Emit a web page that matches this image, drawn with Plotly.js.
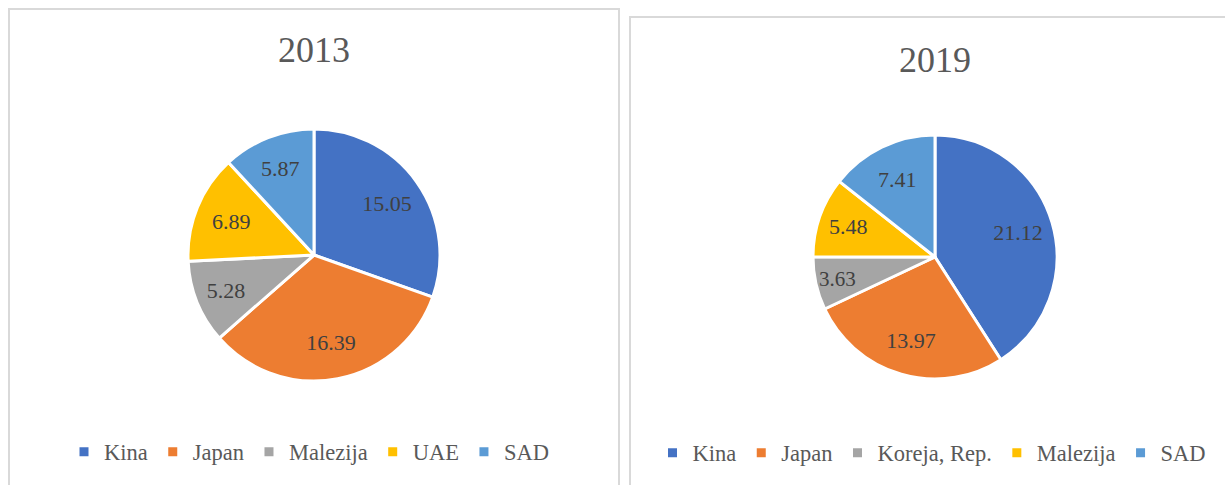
<!DOCTYPE html>
<html>
<head>
<meta charset="utf-8">
<script src="https://cdn.plot.ly/plotly-3.0.1.min.js"></script>
<style>html,body{margin:0;padding:0;background:#fff;}#chart{width:1225px;height:485px;}</style>
</head>
<body>
<div id="chart"></div>
<script>
const labels2013 = ["Kina", "Japan", "Malezija", "UAE", "SAD"];
const values2013 = [15.05, 16.39, 5.28, 6.89, 5.87];
const colors2013 = ["#4472C4", "#ED7D31", "#A5A5A5", "#FFC000", "#5B9BD5"];

const labels2019 = ["Kina", "Japan", "Koreja, Rep.", "Malezija", "SAD"];
const values2019 = [21.12, 13.97, 3.63, 5.48, 7.41];
const colors2019 = ["#4472C4", "#ED7D31", "#A5A5A5", "#FFC000", "#5B9BD5"];

const titles = ["2013", "2019"];

const W = 1225, H = 485;
const px = x => x / W;
const py = y => 1 - y / H;

const FONT = "Liberation Serif, Times New Roman, serif";

// 2019 legend is separate: make its labels distinct from the 2013 ones (invisible suffix)
const legendLabels2019 = labels2019.map(l => l + "\u200b");

const dom2013 = {x: [px(188), px(440)], y: [py(381), py(129)]};
const dom2019 = {x: [px(813), px(1057)], y: [py(379), py(135)]};

function basePie(labels, values, colors, domain, legend) {
  return {
    type: "pie", sort: false, direction: "clockwise", rotation: 0,
    labels: labels, values: values,
    marker: {colors: colors, line: {color: "#fff", width: 3}},
    textinfo: "none",
    hoverinfo: "label+value",
    domain: domain, legend: legend,
  };
}
function labelPie(labels, values, domain) {
  // transparent ring on top of the pie: puts value labels at ~0.7 of the radius
  return {
    type: "pie", sort: false, direction: "clockwise", rotation: 0,
    labels: labels, values: values, hole: 0.42,
    marker: {colors: labels.map(() => "rgba(0,0,0,0)"), line: {width: 0}},
    textinfo: "value", texttemplate: "%{value:.2f}",
    textposition: "inside", insidetextorientation: "horizontal",
    textfont: {family: FONT, size: 22, color: "#404040"},
    hoverinfo: "skip", showlegend: false,
    domain: domain,
  };
}

const traces = [
  basePie(labels2013, values2013, colors2013, dom2013, "legend"),
  basePie(legendLabels2019, values2019, colors2019, dom2019, "legend2"),
  labelPie(labels2013, values2013, dom2013),
  labelPie(legendLabels2019, values2019, dom2019),
];

const legendBase = {
  orientation: "h", xanchor: "center", yanchor: "middle",
  font: {family: FONT, size: 22.5, color: "#595959"},
  itemwidth: 30, bgcolor: "rgba(0,0,0,0)", traceorder: "normal",
};

const layout = {
  width: W, height: H,
  margin: {l: 0, r: 0, t: 0, b: 0},
  paper_bgcolor: "#fff",
  showlegend: true,
  legend: Object.assign({}, legendBase, {x: px(309), y: py(452)}),
  legend2: Object.assign({}, legendBase, {x: px(932), y: py(453)}),
  shapes: [
    {type: "rect", xref: "paper", yref: "paper", x0: px(9), x1: px(619), y0: py(495), y1: py(9),
     line: {color: "#D9D9D9", width: 2}, fillcolor: "rgba(0,0,0,0)"},
    {type: "rect", xref: "paper", yref: "paper", x0: px(630), x1: px(1240), y0: py(495), y1: py(17),
     line: {color: "#D9D9D9", width: 2}, fillcolor: "rgba(0,0,0,0)"},
  ],
  annotations: [
    {text: titles[0], xref: "paper", yref: "paper", x: px(314), y: py(50), showarrow: false,
     xanchor: "center", yanchor: "middle", font: {family: FONT, size: 36, color: "#595959"}},
    {text: titles[1], xref: "paper", yref: "paper", x: px(935), y: py(60), showarrow: false,
     xanchor: "center", yanchor: "middle", font: {family: FONT, size: 36, color: "#595959"}},
  ],
};

Plotly.newPlot("chart", traces, layout, {displayModeBar: false, staticPlot: true});
</script>
</body>
</html>
